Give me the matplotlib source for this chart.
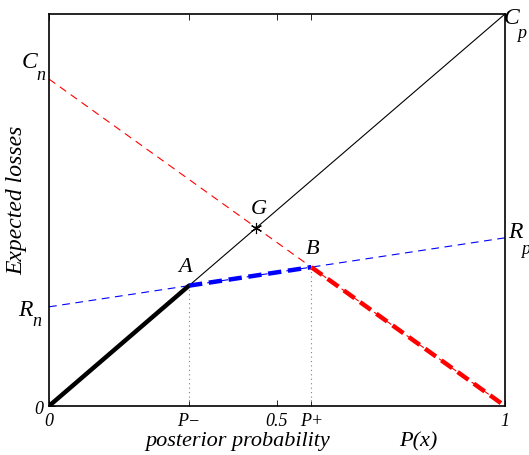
import matplotlib
matplotlib.use("Agg")
import matplotlib.pyplot as plt
import numpy as np

plt.rcParams['font.family'] = ['Liberation Serif', 'DejaVu Serif']

# values (y normalised so C_p = 1)
Cp = 1.0
Cn = 0.834
Rp = 0.429
Rn = 0.253
tick_labels = ['0', 'P\u2212', '0.5', 'P+', '1']

pA = Rn / (Cp - Rp + Rn)
pB = (Cn - Rn) / (Cn + Rp - Rn)
pG = Cn / (Cp + Cn)

def red(p): return Cn * (1 - p)
def blue(p): return Rn + (Rp - Rn) * p
def black(p): return Cp * p

fig = plt.figure(figsize=(5.29, 4.56), dpi=100)
ax = fig.add_axes([49/529, 1-407/456, 456/529, 392/456])

x = np.array([0.0, 1.0])
ax.plot(x, black(x), color='black', lw=0.8)
ax.plot(x, red(x), color='red', lw=0.8, ls=(0, (7, 5)))
ax.plot(x, blue(x), color='blue', lw=0.8, ls=(0, (7, 5)))

# thick optimal segments
xa = np.array([0.0, pA])
ax.plot(xa, black(xa), color='black', lw=3.2, solid_capstyle='round')
xb = np.array([pA, pB])
ax.plot(xb, blue(xb), color='blue', lw=3.2, ls=(0, (3, 1.5)))
xc = np.array([pB, 1.0])
ax.plot(xc, red(xc), color='red', lw=3.2, ls=(0, (3, 1.5)))

# dotted verticals
ax.plot([pA, pA], [0, black(pA)], color='gray', lw=0.8, ls=(0, (1, 3)))
ax.plot([pB, pB], [0, blue(pB)], color='gray', lw=0.8, ls=(0, (1, 3)))

# G marker
ax.plot([pG], [black(pG)], marker=(6, 2, 0), color='black', ms=8, mew=0.8)

ax.set_xlim(0, 1)
ax.set_ylim(0, Cp)
ax.set_xticks([0, pA, 0.5, pB, 1])
ax.set_xticklabels(tick_labels, fontstyle='italic', fontsize=13)
ax.set_yticks([0])
ax.set_yticklabels(['0'], fontstyle='italic', fontsize=13)
ax.tick_params(direction='in', length=4, width=0.6, top=True)
ax.tick_params(axis='x', pad=4)
ax.tick_params(axis='y', pad=4)
for s in ax.spines.values():
    s.set_linewidth(1.2)

def lab(px, py, s, size=16, ha='center', va='center'):
    fig.text(px/529, 1-py/456, s, fontsize=size, ha=ha, va=va, style='italic')

# C_n, R_n, C_p, R_p as letter + subscript
lab(30, 63, 'C', 17)
lab(41, 76, 'n', 13)
lab(25, 310, 'R', 17)
lab(37, 322, 'n', 13)
lab(512, 19, 'C', 17)
lab(522, 34, 'p', 13)
lab(515, 233, 'R', 17)
lab(526, 249, 'p', 13)

lab(185, 268, 'A', 16)
lab(313, 250, 'B', 16)
lab(259, 210, 'G', 16)

fig.text(238/529, 1-442/456, 'posterior probability', fontsize=16, style='italic', ha='center', va='center')
fig.text(418/529, 1-442/456, 'P(x)', fontsize=16, style='italic', ha='center', va='center')
fig.text(17/529, 1-200/456, 'Expected losses', fontsize=17, style='italic', ha='center', va='center', rotation=90)

fig.savefig('out.png', dpi=100)
